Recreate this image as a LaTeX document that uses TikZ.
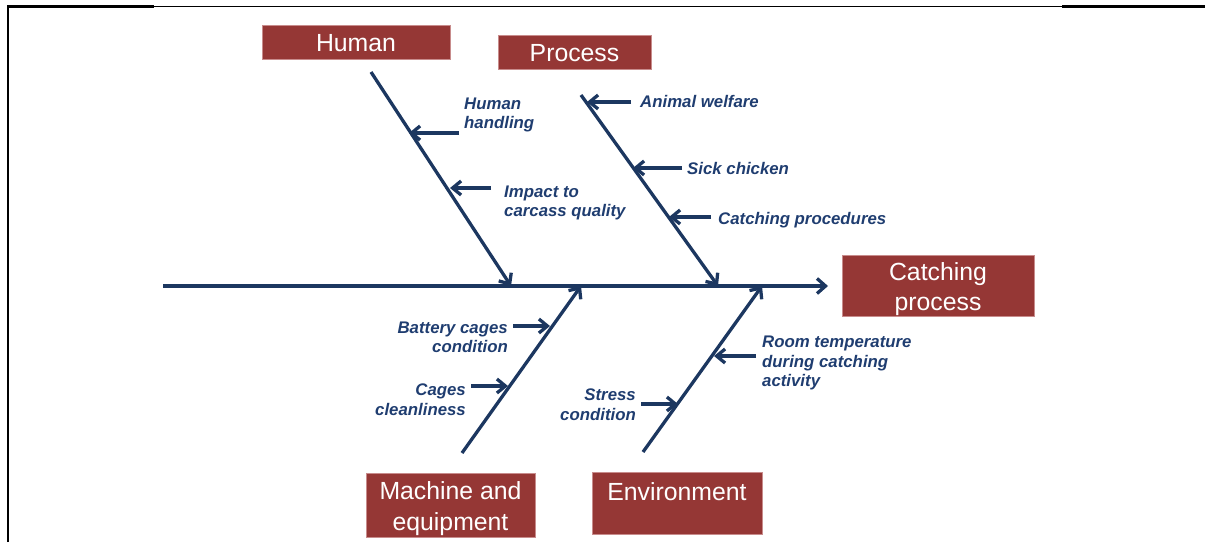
\documentclass[tikz,border=0pt]{standalone}
\usepackage{fontspec}
\setmainfont{Liberation Sans}
\usetikzlibrary{arrows.meta}
\definecolor{bone}{RGB}{28,55,96}
\definecolor{lbl}{RGB}{31,61,112}
\definecolor{boxred}{RGB}{149,55,53}
\definecolor{boxedge}{RGB}{200,140,140}
\tikzset{
  cat/.style={draw=boxedge, line width=0.6pt, fill=boxred, inner sep=0pt},
  cattext/.style={text=white, inner sep=0pt, font=\fontsize{24.8}{30.5}\selectfont, align=center},
  bonel/.style={draw=bone, line width=3.3pt, -{Straight Barb[length=8.5pt,width=15pt]}},
  cause/.style={draw=bone, line width=3.3pt, -{Straight Barb[length=8.5pt,width=14pt]}},
  lab/.style={text=lbl, font=\fontsize{16.8}{19.5}\selectfont\bfseries\itshape, inner sep=0pt},
  frameline/.style={draw=black}
}
\begin{document}
\begin{tikzpicture}[x=1pt,y=-1pt]
\useasboundingbox (0,0) rectangle (1205,542);
% frame
\coordinate (f1) at (7,6.5);
\coordinate (f2) at (154,6.5);
\coordinate (f3) at (1062,6.5);
\coordinate (f4) at (1205,6.5);
\coordinate (f5) at (8,542);
\coordinate (f6) at (8,5.25);
\draw[frameline, line width=2.5pt] (f5) -- (f6);
\draw[frameline, line width=2.5pt] (f1) -- (f2);
\draw[frameline, line width=1pt] (f2) -- (f3);
\draw[frameline, line width=2.5pt] (f3) -- (f4);

% boxes
\node[cat, minimum width=188pt, minimum height=34pt] (human) at (356,42) {};
\node[cattext] (humant) at (356,43) {Human};
\node[cat, minimum width=153pt, minimum height=34pt] (process) at (574.5,52) {};
\node[cattext] (processt) at (574.5,53) {Process};
\node[cat, minimum width=192pt, minimum height=61pt] (effect) at (938,286) {};
\node[cattext] (effectt) at (938,289) {Catching\\process};
\node[cat, minimum width=169pt, minimum height=64pt] (machine) at (450.5,505) {};
\node[cattext] (machinet) at (450.5,508.5) {Machine and\\equipment};
\node[cat, minimum width=170pt, minimum height=62pt] (env) at (677,503) {};
\node[cattext] (envt) at (677,491.5) {Environment};

% spine
\coordinate (s0) at (163,286);
\coordinate (s1) at (828,286);
\draw[bonel] (s0) -- (s1);

% bones
\coordinate (h0) at (371,72);   \coordinate (h1) at (511,286);
\coordinate (p0) at (581,95);   \coordinate (p1) at (718,286);
\coordinate (m0) at (462,453);  \coordinate (m1) at (581,286);
\coordinate (e0) at (643,452);  \coordinate (e1) at (762,286);
\draw[bonel] (h0) -- (h1);
\draw[bonel] (p0) -- (p1);
\draw[bonel] (m0) -- (m1);
\draw[bonel] (e0) -- (e1);

% causes: Human
\coordinate (hh0) at (459,133); \coordinate (hh1) at (409,133);
\coordinate (hi0) at (491,188); \coordinate (hi1) at (450,188);
\draw[cause] (hh0) -- (hh1);
\draw[cause] (hi0) -- (hi1);
\node[lab, anchor=west, align=left] (lhh) at (464,115) {Human\\handling};
\node[lab, anchor=west, align=left] (lhi) at (504,203) {Impact to\\carcass quality};

% causes: Process
\coordinate (pa0) at (631,102); \coordinate (pa1) at (587,102);
\coordinate (ps0) at (682,168); \coordinate (ps1) at (633,168);
\coordinate (pc0) at (711,217); \coordinate (pc1) at (669,217);
\draw[cause] (pa0) -- (pa1);
\draw[cause] (ps0) -- (ps1);
\draw[cause] (pc0) -- (pc1);
\node[lab, anchor=west] (lpa) at (640,101) {Animal welfare};
\node[lab, anchor=west] (lps) at (687,168) {Sick chicken};
\node[lab, anchor=west] (lpc) at (718,220) {Catching procedures};

% causes: Machine
\coordinate (mb0) at (513,326); \coordinate (mb1) at (550,326);
\coordinate (mc0) at (471,386); \coordinate (mc1) at (508,386);
\draw[cause] (mb0) -- (mb1);
\draw[cause] (mc0) -- (mc1);
\node[lab, anchor=east, align=right] (lmb) at (508,337.5) {Battery cages\\condition};
\node[lab, anchor=east, align=right] (lmc) at (466,399.5) {Cages\\cleanliness};

% causes: Environment
\coordinate (er0) at (756,356); \coordinate (er1) at (714,356);
\coordinate (es0) at (641,404); \coordinate (es1) at (678,404);
\draw[cause] (er0) -- (er1);
\draw[cause] (es0) -- (es1);
\node[lab, anchor=west, align=left] (ler) at (762,363) {Room temperature\\during catching\\activity};
\node[lab, anchor=east, align=right] (les) at (636,404.5) {Stress\\condition};
\end{tikzpicture}
\end{document}
